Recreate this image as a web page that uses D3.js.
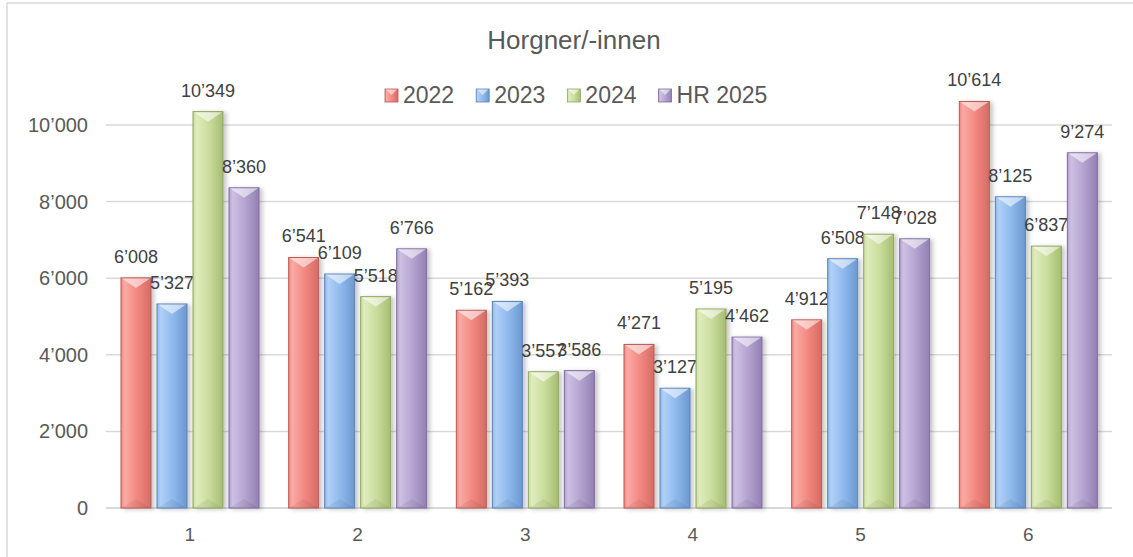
<!DOCTYPE html>
<html>
<head>
<meta charset="utf-8">
<script src="https://cdn.jsdelivr.net/npm/d3@7"></script>
<style>
  body { margin: 0; background: #fff; }
  text { font-family: "Liberation Sans", Arial, sans-serif; }
</style>
</head>
<body>
<svg id="chart" width="1133" height="557"></svg>
<script>
const categories = ['1', '2', '3', '4', '5', '6'];
const seriesNames = ['2022', '2023', '2024', 'HR 2025'];
const v2022 = [6008, 6541, 5162, 4271, 4912, 10614];
const v2023 = [5327, 6109, 5393, 3127, 6508, 8125];
const v2024 = [10349, 5518, 3557, 5195, 7148, 6837];
const vHR2025 = [8360, 6766, 3586, 4462, 7028, 9274];
const yTicks = [0, 2000, 4000, 6000, 8000, 10000];
const chartTitle = 'Horgner/-innen';

const allValues = [v2022, v2023, v2024, vHR2025];

// colours: [dark edge, base, light, outline]
const palette = [
  ['#d46c65', '#f2877f', '#f9aaa4', '#b85a55'],
  ['#6d98cf', '#8db8ec', '#b0d0f6', '#5a82b8'],
  ['#a5bd73', '#c9dc9b', '#e0ecbd', '#8ea55f'],
  ['#9380b3', '#b3a2cf', '#cdc0e3', '#7d6b9d']
];

const svg = d3.select('#chart');
const W = +svg.attr('width');

const fmt = d3.formatLocale({ decimal: '.', thousands: '\u2019', grouping: [3], currency: ['', ''] }).format(',d');

const x0 = d3.scaleBand().domain(categories).range([106, 1112]);
const x1 = d3.scaleBand().domain(seriesNames).range([15, 153]).paddingInner(0.167);
const y = d3.scaleLinear().domain([0, 12000]).range([508, 48.4]);

const defs = svg.append('defs');
palette.forEach((c, i) => {
  const g = defs.append('linearGradient').attr('id', 'grad' + i)
    .attr('x1', '0%').attr('x2', '100%').attr('y1', '0%').attr('y2', '0%');
  g.append('stop').attr('offset', '0%').attr('stop-color', c[1]);
  g.append('stop').attr('offset', '12%').attr('stop-color', c[2]);
  g.append('stop').attr('offset', '55%').attr('stop-color', c[1]);
  g.append('stop').attr('offset', '100%').attr('stop-color', c[0]);
});
const shadow = defs.append('filter').attr('id', 'shadow')
  .attr('x', '-30%').attr('y', '-10%').attr('width', '160%').attr('height', '120%');
shadow.append('feDropShadow').attr('dx', 3).attr('dy', 1).attr('stdDeviation', 2)
  .attr('flood-color', '#000').attr('flood-opacity', 0.22);

// chart border (left and top only visible)
svg.append('line').attr('x1', 7).attr('x2', W).attr('y1', 3).attr('y2', 3)
  .attr('stroke', '#d9d9d9').attr('stroke-width', 1.5);
svg.append('line').attr('x1', 7).attr('x2', 7).attr('y1', 3).attr('y2', 557)
  .attr('stroke', '#d9d9d9').attr('stroke-width', 1.5);

// gridlines
svg.append('g').selectAll('line').data(yTicks).enter().append('line')
  .attr('x1', 106).attr('x2', 1112)
  .attr('y1', d => y(d)).attr('y2', d => y(d))
  .attr('stroke', '#d9d9d9').attr('stroke-width', d => d === 0 ? 2 : 1.5);

// y axis labels
const yAxis = d3.axisLeft(y).tickValues(yTicks).tickFormat(fmt).tickSize(0).tickPadding(0);
const gy = svg.append('g').attr('transform', 'translate(88,0)').call(yAxis);
gy.select('.domain').remove();
gy.selectAll('text').attr('font-size', 20).attr('fill', '#595959')
  .attr('font-family', '"Liberation Sans", Arial, sans-serif');

// x axis labels
const xAxis = d3.axisBottom(x0).tickSize(0).tickPadding(0);
const gx = svg.append('g').attr('transform', 'translate(0,527)').call(xAxis);
gx.select('.domain').remove();
gx.selectAll('text').attr('font-size', 19).attr('fill', '#595959')
  .attr('font-family', '"Liberation Sans", Arial, sans-serif');

// bars
const rows = [];
categories.forEach((c, ci) => {
  seriesNames.forEach((s, si) => {
    rows.push({ cat: c, series: s, si: si, value: allValues[si][ci] });
  });
});

const bars = svg.append('g').selectAll('g').data(rows).enter().append('g')
  .attr('transform', d => 'translate(' + (x0(d.cat) + x1(d.series)) + ',0)');
const bw = x1.bandwidth();

bars.append('rect')
  .attr('x', 0).attr('y', d => y(d.value))
  .attr('width', bw).attr('height', d => y(0) - y(d.value))
  .attr('fill', d => 'url(#grad' + d.si + ')')
  .attr('stroke', d => palette[d.si][3]).attr('stroke-width', 1)
  .attr('filter', 'url(#shadow)');

// top bevel
bars.append('path')
  .attr('d', d => {
    const t = y(d.value);
    return 'M1,' + (t + 0.5) + 'L' + (bw - 1) + ',' + (t + 0.5) + 'L' + (bw / 2) + ',' + (t + 10) + 'Z';
  })
  .attr('fill', '#fff').attr('opacity', 0.55);
// bottom bevel
bars.append('path')
  .attr('d', d => {
    const b = y(0);
    return 'M1,' + (b - 0.5) + 'L' + (bw - 1) + ',' + (b - 0.5) + 'L' + (bw / 2) + ',' + (b - 9) + 'Z';
  })
  .attr('fill', '#000').attr('opacity', 0.06);

// data labels
bars.append('text')
  .attr('x', bw / 2).attr('y', d => y(d.value) - 15)
  .attr('text-anchor', 'middle').attr('font-size', 18).attr('fill', '#404040')
  .text(d => fmt(d.value));

// title
svg.append('text').attr('x', 574).attr('y', 49).attr('text-anchor', 'middle')
  .attr('font-size', 26).attr('fill', '#595959').text(chartTitle);

// legend
const legend = svg.append('g').attr('transform', 'translate(385,0)');
let lx = 0;
seriesNames.forEach((s, i) => {
  const it = legend.append('g').attr('transform', 'translate(' + lx + ',0)');
  it.append('rect').attr('x', 0).attr('y', 89).attr('width', 13).attr('height', 13)
    .attr('fill', 'url(#grad' + i + ')').attr('stroke', palette[i][3]).attr('stroke-width', 0.8);
  it.append('path').attr('d', 'M1,89.5L12,89.5L6.5,95Z').attr('fill', '#fff').attr('opacity', 0.55);
  const t = it.append('text').attr('x', 18).attr('y', 103).attr('font-size', 23)
    .attr('fill', '#595959').text(s);
  lx += 18 + t.node().getComputedTextLength() + 22;
});
</script>
</body>
</html>
